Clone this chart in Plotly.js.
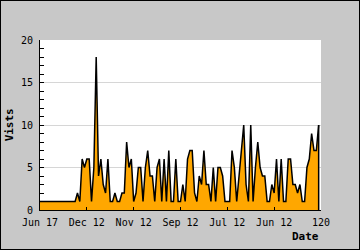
<!DOCTYPE html>
<html><head><meta charset="utf-8">
<script src="https://cdn.plot.ly/plotly-3.0.1.min.js"></script>
<style>html,body{margin:0;padding:0;background:#c8c8c8;}#c{width:358px;height:248px;border:1px solid #000;}</style>
</head><body><div id="c"></div>
<script>
var visits = [1,1,1,1,1,1,1,1,1,1,1,1,1,1,1,1,
  2,1,6,5,6,6,1,5,18,4,6,3,2,6,1,1,2,1,1,2,2,8,5,6,
  1,2,5,5,1,5,7,4,4,1,5,6,1,6,1,7,1,1,6,1,
  1,3,1,6,7,7,2,1,4,3,7,3,3,1,5,1,5,5,4,1,
  1,1,7,5,1,4,7,10,3,1,10,1,5,8,5,4,4,1,1,3,
  2,6,1,6,1,1,6,6,3,3,2,3,1,1,5,6,9,7,7,10];
var tickPos = [0,20,40,60,80,100,120];
var tickLabels = ["Jun 17","Dec 12","Nov 12","Sep 12","Jul 12","Jun 12","120"];
var xs = visits.map(function(_, i){ return i; });
var last = xs.length - 1;
var mono = "DejaVu Sans Mono, monospace";
Plotly.newPlot("c", [{
  x: xs, y: visits, type: "scatter", mode: "lines",
  fill: "tozeroy", fillcolor: "#ffa700",
  line: {color: "#000", width: 1.5}, hoverinfo: "none"
}], {
  width: 358, height: 248,
  margin: {l: 39, r: 38, t: 39, b: 39, pad: 0},
  paper_bgcolor: "#c8c8c8", plot_bgcolor: "#ffffff",
  showlegend: false,
  xaxis: {range: [0, 120], tickvals: tickPos, ticktext: tickLabels,
    ticks: "inside", ticklen: 3, tickcolor: "#000", tickwidth: 1,
    showline: true, linecolor: "#000", linewidth: 1, showgrid: false, zeroline: false,
    ticklabelstandoff: 3,
    tickfont: {family: mono, size: 10, color: "#000"}},
  yaxis: {range: [0, 20], tickvals: [0,5,10,15,20],
    ticks: "inside", ticklen: 4, tickcolor: "#000", tickwidth: 1,
    minor: {dtick: 1, ticks: "inside", ticklen: 4, tickcolor: "#000", showgrid: false},
    showline: true, linecolor: "#000", linewidth: 1,
    showgrid: true, gridcolor: "#d6d6d6", gridwidth: 1, zeroline: false,
    ticklabelstandoff: 4,
    tickfont: {family: mono, size: 10, color: "#000"}},
  shapes: [{type: "line", xref: "x", yref: "y", x0: last, x1: last, y0: 0, y1: visits[last],
    line: {color: "#000", width: 1.5}}],
  annotations: [
    {text: "<b>Date</b>", xref: "paper", yref: "paper", x: 1, y: -0.153, xanchor: "right", yanchor: "middle",
     showarrow: false, font: {family: mono, size: 11, color: "#000"}},
    {text: "<b>Vists</b>", xref: "paper", yref: "paper", x: -0.109, y: 0.5, xanchor: "center", yanchor: "middle",
     textangle: -90, showarrow: false, font: {family: mono, size: 11, color: "#000"}}
  ]
}, {displayModeBar: false, staticPlot: true});
</script></body></html>
